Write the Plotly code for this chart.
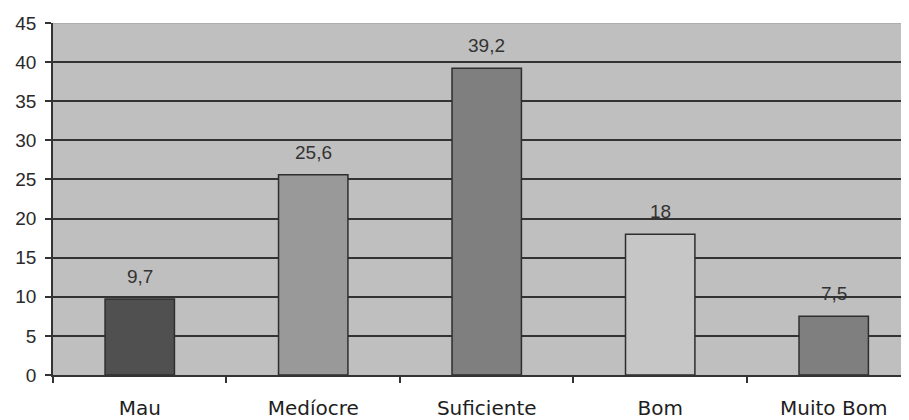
import plotly.graph_objects as go

categories = ["Mau", "Medíocre", "Suficiente", "Bom", "Muito Bom"]
values = [9.7, 25.6, 39.2, 18, 7.5]
value_labels = ["9,7", "25,6", "39,2", "18", "7,5"]
bar_colors = ["#505050", "#999999", "#7f7f7f", "#c6c6c6", "#7f7f7f"]
y_ticks = [0, 5, 10, 15, 20, 25, 30, 35, 40, 45]

fig = go.Figure()
fig.add_trace(go.Bar(
    x=categories, y=values, width=0.4,
    marker=dict(color=bar_colors, line=dict(color="#2e2e2e", width=1.5)),
    hoverinfo="skip",
))

for c, v, t in zip(categories, values, value_labels):
    fig.add_annotation(x=c, y=v, text=t, showarrow=False, yanchor="bottom",
                       yshift=10, font=dict(family="Liberation Sans, Arial", size=19, color="#333333"))

fig.add_shape(type="line", xref="paper", yref="y", x0=0, x1=1, y0=45, y1=45,
              line=dict(color="#a8a8a8", width=1.5), layer="above")

fig.update_layout(
    width=901, height=412,
    margin=dict(l=45, r=0, t=15, b=43),
    paper_bgcolor="white", plot_bgcolor="#bfbfbf",
    showlegend=False,
    bargap=0.6,
)
fig.update_xaxes(
    range=[-0.5, 4.434], tickson="boundaries", ticks="outside", ticklen=6,
    tickcolor="#333333", tickwidth=1.5, showline=True, linecolor="#333333", linewidth=1.5,
    showgrid=False, ticklabelstandoff=14,
    tickfont=dict(family="DejaVu Sans, Verdana", size=20, color="#1e1e1e"),
)
fig.update_yaxes(
    range=[0, 45], tickvals=y_ticks, ticks="outside", ticklen=6,
    tickcolor="#333333", tickwidth=1.5, showline=True, linecolor="#333333", linewidth=1.5,
    showgrid=True, gridcolor="#333333", gridwidth=1.5, zeroline=False, ticklabelstandoff=5,
    tickfont=dict(family="Liberation Sans, Arial", size=19, color="#2a2a2a"),
)

fig.write_html("out.html")
